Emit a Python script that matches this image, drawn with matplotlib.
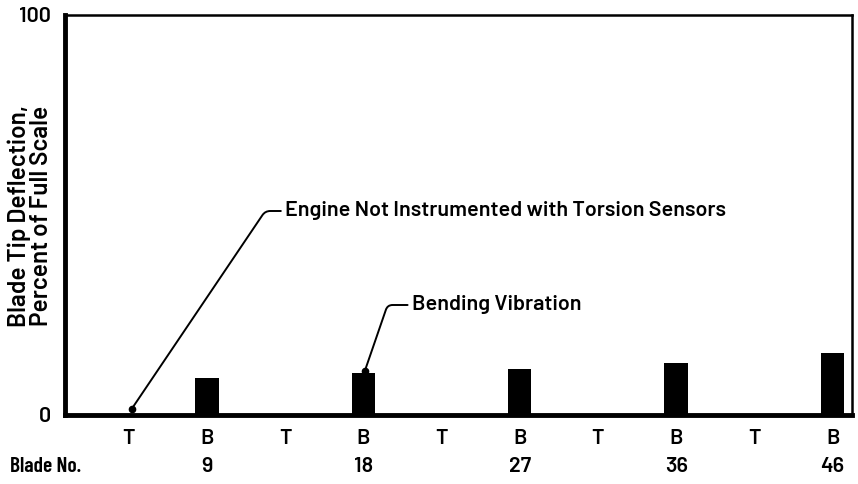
import matplotlib
matplotlib.use("Agg")
import matplotlib.pyplot as plt

# Data
slot_labels = ["T", "B", "T", "B", "T", "B", "T", "B", "T", "B"]
blade_numbers = ["", "9", "", "18", "", "27", "", "36", "", "46"]
bending_slots = [1, 3, 5, 7, 9]
bending_values = [9.3, 10.5, 11.5, 13.0, 15.5]
torsion_slots = [0, 2, 4, 6, 8]

plt.rcParams["font.family"] = ["Barlow", "Barlow Semi Condensed", "Roboto", "DejaVu Sans"]
W = 600
FS = 15.5

fig = plt.figure(figsize=(8.58, 4.84), dpi=100)
ax = fig.add_axes([65/858, 1-415/484, (852-65)/858, (415-15)/484])

ax.bar(bending_slots, bending_values, width=0.3, color="black")

ax.set_xlim(-0.812, 9.247)
ax.set_ylim(0, 100)

for s in ["left", "bottom"]:
    ax.spines[s].set_linewidth(3.5)
for s in ["top", "right"]:
    ax.spines[s].set_linewidth(1.8)

ax.set_yticks([0, 100])
ax.set_yticklabels(["0", "100"], fontsize=FS, fontweight=W)
ax.tick_params(axis="y", length=0, pad=10)
ax.set_xticks(range(len(slot_labels)))
ax.set_xticklabels(slot_labels, fontsize=FS, fontweight=W)
ax.tick_params(axis="x", length=0, pad=10)

trans = ax.get_xaxis_transform()
for i, lab in enumerate(blade_numbers):
    if lab:
        ax.text(i, -0.13, lab, transform=trans, ha="center", va="center",
                fontsize=FS, fontweight=W)
fig.text(10/858, 1-467/484, "Blade No.", ha="left", va="center",
         fontsize=FS, fontweight=W,
         family=["Barlow Condensed", "Barlow Semi Condensed", "DejaVu Sans"])

YFS = 17.5
fig.text(19/858, 1-216/484, "Blade Tip Deflection,", rotation=90, ha="center",
         va="center", fontsize=YFS, fontweight=W,
         family=["Barlow", "Barlow Semi Condensed", "DejaVu Sans"])
fig.text(42/858, 1-216/484, "Percent of Full Scale", rotation=90, ha="center",
         va="center", fontsize=YFS, fontweight=W,
         family=["Barlow", "Barlow Semi Condensed", "DejaVu Sans"])

# Annotations
ax.annotate("Engine Not Instrumented with Torsion Sensors",
            xy=(torsion_slots[0] + 0.04, 1.5), xytext=(2.0, 51.0),
            fontsize=FS, fontweight=W, ha="left", va="center",
            arrowprops=dict(arrowstyle="-", color="black", lw=1.4,
                            connectionstyle="angle,angleA=0,angleB=56,rad=5",
                            shrinkA=1, shrinkB=0))
ax.plot([torsion_slots[0] + 0.04], [1.5], "o", color="black", ms=4.5, clip_on=False)

ax.annotate("Bending Vibration",
            xy=(bending_slots[1] + 0.02, bending_values[1] + 0.5), xytext=(3.62, 27.5),
            fontsize=FS, fontweight=W, ha="left", va="center",
            arrowprops=dict(arrowstyle="-", color="black", lw=1.4,
                            connectionstyle="angle,angleA=0,angleB=71,rad=5",
                            shrinkA=1, shrinkB=0))
ax.plot([bending_slots[1] + 0.02], [bending_values[1] + 0.5], "o", color="black", ms=4.5)

fig.savefig("out.png", dpi=100)
